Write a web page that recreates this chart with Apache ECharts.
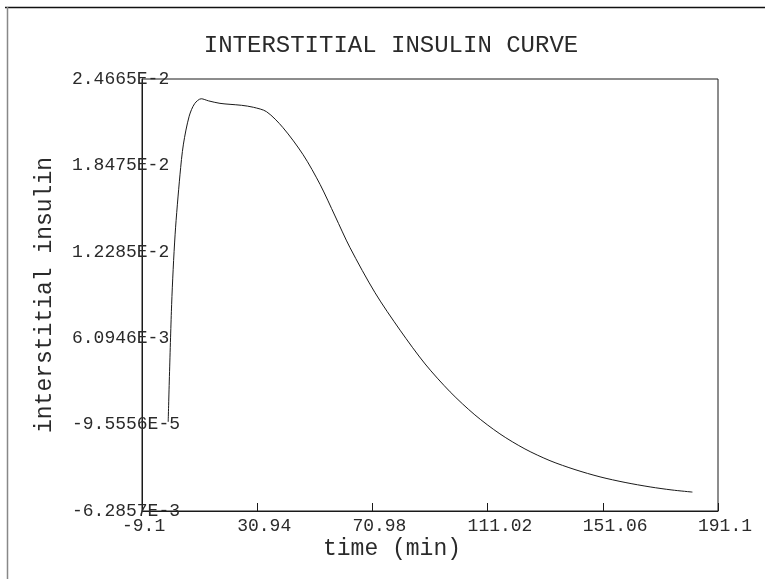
<!DOCTYPE html>
<html>
<head>
<meta charset="utf-8">
<title>Interstitial insulin curve</title>
<script src="https://cdn.jsdelivr.net/npm/echarts@6/dist/echarts.min.js"></script>
<style>
  html, body { margin: 0; padding: 0; background: #fff; }
  #chart { width: 765px; height: 579px; }
</style>
</head>
<body>
<div id="chart"></div>
<script>
// Time axis ticks (min) and their printed labels
const timeTicks = [-9.1, 30.94, 70.98, 111.02, 151.06, 191.1];
const timeTickLabels = ['-9.1', '30.94', '70.98', '111.02', '151.06', '191.1'];

// Insulin axis ticks and their printed labels
const insulinTicks = [-0.0062857, -0.000095556, 0.0060946, 0.012285, 0.018475, 0.024665];
const insulinTickLabels = ['-6.2857E-3', '-9.5556E-5', '6.0946E-3', '1.2285E-2', '1.8475E-2', '2.4665E-2'];

// Simulated interstitial insulin over time
const timeMin = [0, 1.2, 2.4, 4.1, 5.3, 7.3, 9.2, 11.5, 14, 18, 21.5, 25.5, 29.6, 34.2,
  39.9, 46.9, 52.8, 58, 63.2, 71.9, 80.6, 89.3, 98, 106.6, 115.3, 124, 132.7, 141.4, 150.1,
  158.8, 167.5, 175.1, 182.2];
const insulin = [0.0001, 0.0085, 0.0135, 0.0178, 0.0200, 0.0220, 0.0229, 0.02325, 0.0231,
  0.02292, 0.02285, 0.02278, 0.02264, 0.02232, 0.02118, 0.01924, 0.01711, 0.01485, 0.01258,
  0.00935, 0.00667, 0.00425, 0.00225, 0.00060, -0.00076, -0.00184, -0.00268, -0.00332, -0.00384,
  -0.00424, -0.00456, -0.00478, -0.00493];

const FONT = 'Liberation Mono';
const INK = '#1a1a1a';
const TEXT = '#2a2a2a';

function labelFor(ticks, labels, v) {
  let best = 0;
  for (let i = 1; i < ticks.length; i++) {
    if (Math.abs(ticks[i] - v) < Math.abs(ticks[best] - v)) best = i;
  }
  return labels[best];
}

const chart = echarts.init(document.getElementById('chart'), null, { renderer: 'canvas' });

chart.setOption({
  animation: false,
  backgroundColor: '#fff',
  grid: {
    left: 142, top: 79, right: 47, bottom: 68,
    show: true, borderColor: INK, borderWidth: 1, backgroundColor: 'transparent'
  },
  xAxis: {
    type: 'value',
    min: timeTicks[0],
    max: timeTicks[timeTicks.length - 1],
    axisLine: { show: true, onZero: false, lineStyle: { color: INK, width: 1 } },
    axisTick: { show: true, inside: true, length: 8, customValues: timeTicks, lineStyle: { color: INK } },
    axisLabel: {
      customValues: timeTicks,
      formatter: v => labelFor(timeTicks, timeTickLabels, v),
      fontFamily: FONT, fontSize: 18, color: TEXT,
      align: 'left', margin: 6,
      padding: [0, 0, 0, -20]
    },
    splitLine: { show: false }
  },
  yAxis: {
    type: 'value',
    min: insulinTicks[0],
    max: insulinTicks[insulinTicks.length - 1],
    axisLine: { show: true, onZero: false, lineStyle: { color: INK, width: 1 } },
    axisTick: { show: false },
    axisLabel: {
      customValues: insulinTicks,
      formatter: v => labelFor(insulinTicks, insulinTickLabels, v),
      fontFamily: FONT, fontSize: 18, color: TEXT,
      align: 'left', margin: 70,
      padding: [5, 0, 0, 0]
    },
    splitLine: { show: false }
  },
  graphic: [
    { type: 'line', shape: { x1: 5, y1: 7.5, x2: 765, y2: 7.5 }, style: { stroke: '#111', lineWidth: 1.5 } },
    { type: 'line', shape: { x1: 7.5, y1: 7, x2: 7.5, y2: 579 }, style: { stroke: '#888', lineWidth: 1.5 } },
    {
      type: 'text',
      style: {
        text: 'INTERSTITIAL INSULIN CURVE', x: 391, y: 46,
        align: 'center', verticalAlign: 'middle',
        font: '24px "' + FONT + '"', fill: TEXT
      }
    },
    {
      type: 'text',
      style: {
        text: 'time (min)', x: 392, y: 549,
        align: 'center', verticalAlign: 'middle',
        font: '23px "' + FONT + '"', fill: TEXT
      }
    },
    {
      type: 'text',
      x: 45, y: 295, rotation: Math.PI / 2,
      style: {
        text: 'interstitial insulin', x: 0, y: 0,
        align: 'center', verticalAlign: 'middle',
        font: '23px "' + FONT + '"', fill: TEXT
      }
    }
  ],
  series: [{
    type: 'line',
    data: timeMin.map((t, i) => [t, insulin[i]]),
    showSymbol: false,
    smooth: 0.3,
    lineStyle: { color: INK, width: 1 }
  }]
});
</script>
</body>
</html>
